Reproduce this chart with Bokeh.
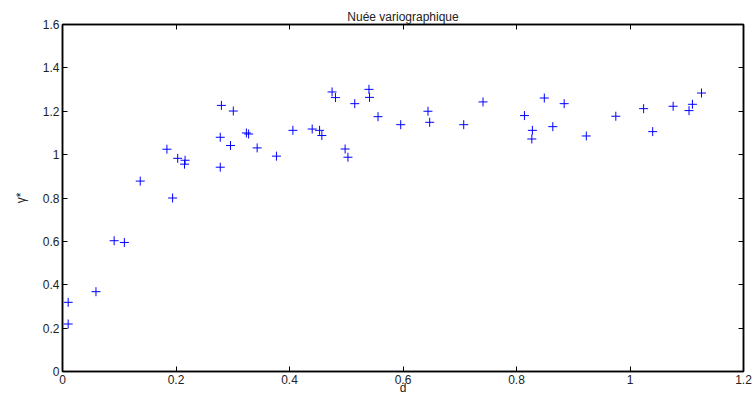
from bokeh.plotting import figure
from bokeh.models import LinearAxis, FixedTicker, Range1d
from bokeh.embed import file_html
from bokeh.resources import INLINE

# distances (d) and semivariogram values (gamma*)
d = [0.010, 0.010, 0.059, 0.091, 0.109, 0.137, 0.184, 0.194, 0.203, 0.216,
     0.215, 0.278, 0.278, 0.280, 0.296, 0.301, 0.324, 0.328, 0.343, 0.377,
     0.406, 0.440, 0.453, 0.457, 0.475, 0.481, 0.498, 0.503, 0.515, 0.540,
     0.541, 0.556, 0.596, 0.644, 0.647, 0.707, 0.741, 0.814, 0.828, 0.827,
     0.849, 0.864, 0.884, 0.923, 0.975, 1.024, 1.040, 1.076, 1.104, 1.110,
     1.126]
gamma = [0.219, 0.319, 0.368, 0.603, 0.595, 0.878, 1.025, 0.800, 0.983, 0.974,
         0.956, 0.942, 1.080, 1.227, 1.042, 1.201, 1.100, 1.095, 1.031, 0.993,
         1.112, 1.118, 1.112, 1.088, 1.289, 1.263, 1.026, 0.988, 1.235, 1.301,
         1.264, 1.175, 1.138, 1.200, 1.149, 1.138, 1.243, 1.180, 1.112, 1.072,
         1.261, 1.129, 1.235, 1.086, 1.177, 1.212, 1.106, 1.223, 1.203, 1.232,
         1.284]

x_ticks = [0, 0.2, 0.4, 0.6, 0.8, 1.0, 1.2]
x_tick_labels = ["0", "0.2", "0.4", "0.6", "0.8", "1", "1.2"]
y_ticks = [0, 0.2, 0.4, 0.6, 0.8, 1.0, 1.2, 1.4, 1.6]
y_tick_labels = ["0", "0.2", "0.4", "0.6", "0.8", "1", "1.2", "1.4", "1.6"]

title_text = "Nuée variographique"
x_label = "d"
y_label = "γ*"

FONT = "Liberation Sans"
TXT = "#222222"

p = figure(width=755, height=397, output_backend="svg", toolbar_location=None,
           x_range=Range1d(0, 1.2), y_range=Range1d(0, 1.6),
           x_axis_location=None, y_axis_location=None,
           min_border_left=62, min_border_right=12, min_border_top=24,
           min_border_bottom=25)
p.title.text = title_text
p.title.align = "center"
p.title.text_font = FONT
p.title.text_font_size = "12px"
p.title.text_font_style = "normal"
p.title.text_color = TXT
p.title.offset = 0
p.title.standoff = 2

p.xgrid.visible = False
p.ygrid.visible = False
p.outline_line_color = "black"
p.outline_line_width = 1.5
p.background_fill_color = "white"
p.border_fill_color = "white"

def make_axis(ticks, labels, axis_label, label_standoff):
    ax = LinearAxis(ticker=FixedTicker(ticks=ticks))
    ax.major_label_overrides = {t: l for t, l in zip(ticks, labels)}
    ax.major_tick_in = 5
    ax.major_tick_out = 0
    ax.minor_tick_in = 0
    ax.minor_tick_out = 0
    ax.axis_line_color = "black"
    ax.axis_line_width = 1.5
    ax.major_tick_line_color = "black"
    ax.major_label_text_font = FONT
    ax.major_label_text_font_size = "12px"
    ax.major_label_text_color = TXT
    ax.major_label_standoff = 3
    ax.axis_label = axis_label
    ax.axis_label_text_font = FONT
    ax.axis_label_text_font_size = "12px"
    ax.axis_label_text_font_style = "normal"
    ax.axis_label_text_color = TXT
    ax.axis_label_standoff = label_standoff
    return ax

def make_tick_only_axis(ticks):
    # ticks drawn inward, no labels (MATLAB-style boxed axes)
    ax = LinearAxis(ticker=FixedTicker(ticks=[], minor_ticks=ticks))
    ax.major_tick_in = 0
    ax.major_tick_out = 0
    ax.minor_tick_in = 5
    ax.minor_tick_out = 0
    ax.minor_tick_line_color = "black"
    ax.axis_line_color = "black"
    ax.axis_line_width = 1.5
    return ax

p.add_layout(make_axis(x_ticks, x_tick_labels, x_label, -6), "below")
p.add_layout(make_axis(y_ticks, y_tick_labels, y_label, 12), "left")
p.add_layout(make_tick_only_axis(x_ticks), "above")
p.add_layout(make_tick_only_axis(y_ticks), "right")

p.scatter(d, gamma, marker="cross", size=9, line_color="#0000ff",
          line_width=1, fill_color=None)

open("out.html", "w").write(file_html(p, INLINE))
